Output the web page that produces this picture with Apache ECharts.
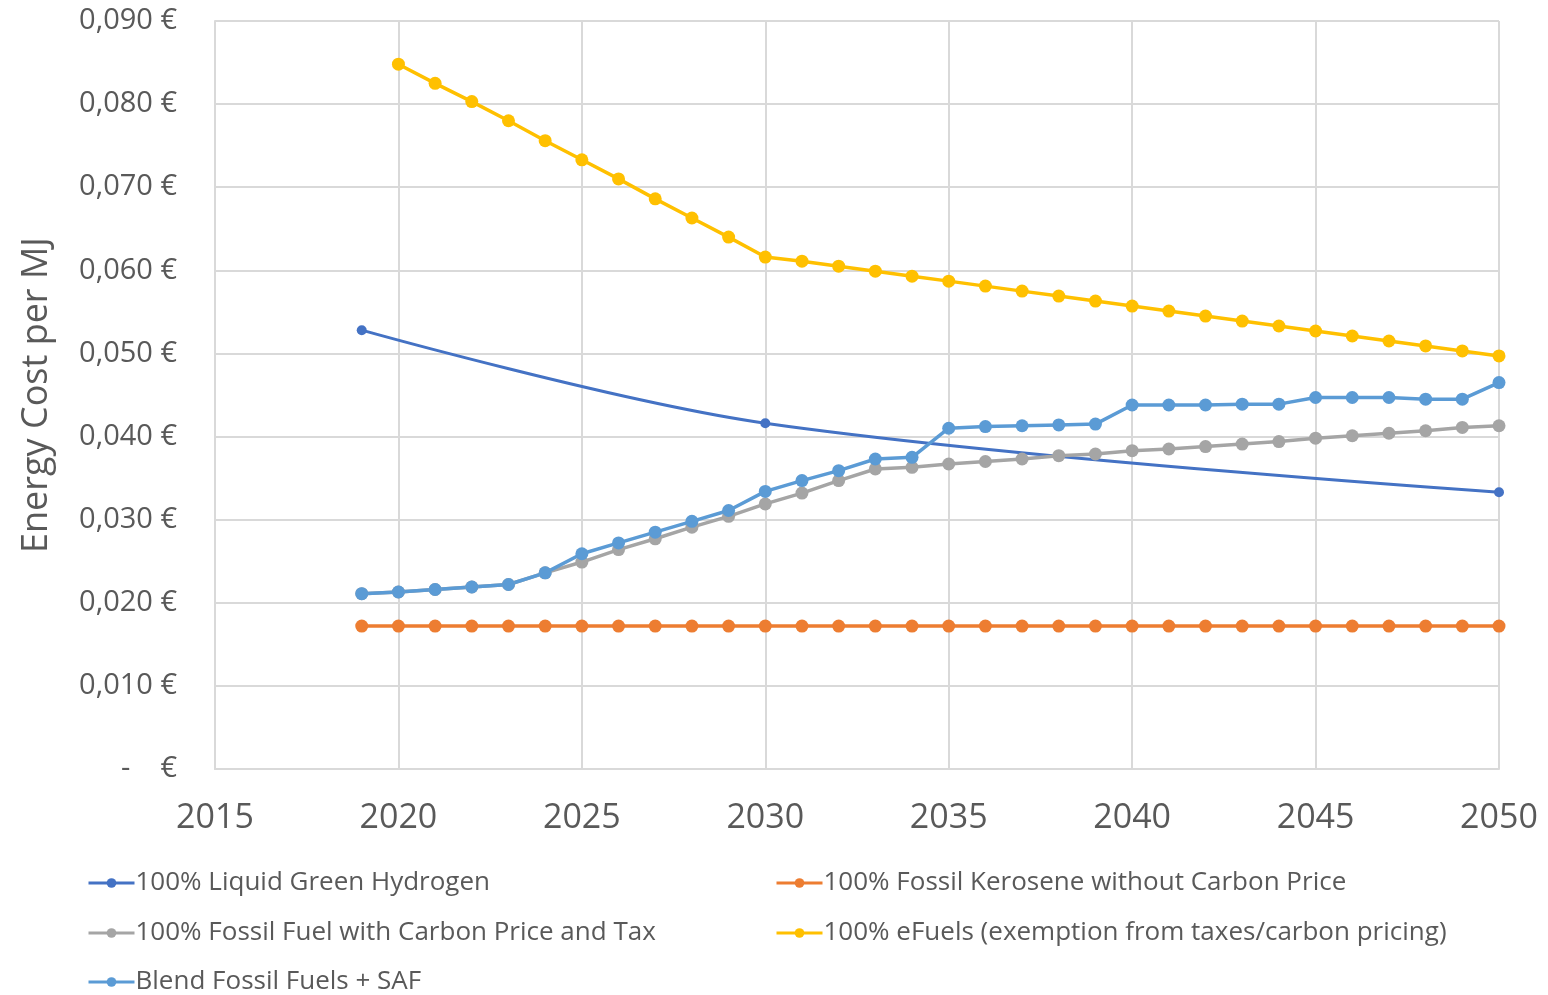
<!DOCTYPE html>
<html>
<head>
<meta charset="utf-8">
<script src="https://cdn.jsdelivr.net/npm/echarts@6/dist/echarts.min.js"></script>
<style>html,body{margin:0;padding:0;background:#fff}#c{width:1548px;height:995px}</style>
</head>
<body>
<div id="c"></div>
<script>
const seriesNames = [
  '100% Liquid Green Hydrogen',
  '100% Fossil Kerosene without Carbon Price',
  '100% Fossil Fuel with Carbon Price and Tax',
  '100% eFuels (exemption from taxes/carbon pricing)',
  'Blend Fossil Fuels + SAF'
];
const years = [2019,2020,2021,2022,2023,2024,2025,2026,2027,2028,2029,2030,2031,2032,2033,2034,2035,2036,2037,2038,2039,2040,2041,2042,2043,2044,2045,2046,2047,2048,2049,2050];
const hydrogenYears = [2019, 2030, 2050];
const hydrogen = [0.0528, 0.0416, 0.0333];
const kerosene = [0.0172,0.0172,0.0172,0.0172,0.0172,0.0172,0.0172,0.0172,0.0172,0.0172,0.0172,0.0172,0.0172,0.0172,0.0172,0.0172,0.0172,0.0172,0.0172,0.0172,0.0172,0.0172,0.0172,0.0172,0.0172,0.0172,0.0172,0.0172,0.0172,0.0172,0.0172,0.0172];
const fossilTax = [0.0211,0.0213,0.0216,0.0219,0.0222,0.0236,0.0249,0.0264,0.0277,0.0291,0.0304,0.0319,0.0332,0.0347,0.0361,0.0363,0.0367,0.0370,0.0373,0.0377,0.0379,0.0383,0.0385,0.0388,0.0391,0.0394,0.0398,0.0401,0.0404,0.0407,0.0411,0.0413];
const efuelYears = years.slice(1);
const efuels = [0.0848,0.0825,0.0803,0.0780,0.0756,0.0733,0.0710,0.0686,0.0663,0.0640,0.0616,0.0611,0.0605,0.0599,0.0593,0.0587,0.0581,0.0575,0.0569,0.0563,0.0557,0.0551,0.0545,0.0539,0.0533,0.0527,0.0521,0.0515,0.0509,0.0503,0.0497];
const blend = [0.0211,0.0213,0.0216,0.0219,0.0222,0.0236,0.0259,0.0272,0.0285,0.0298,0.0311,0.0334,0.0347,0.0359,0.0373,0.0375,0.0410,0.0412,0.0413,0.0414,0.0415,0.0438,0.0438,0.0438,0.0439,0.0439,0.0447,0.0447,0.0447,0.0445,0.0445,0.0465];
const colors = ['#4472C4','#ED7D31','#A5A5A5','#FFC000','#5B9BD5'];

const zip = (xs, ys) => xs.map((x, i) => [x, ys[i]]);
const txt = '#595959';
const font = 'Open Sans, Lato, sans-serif';

function mkSeries(i, data, opts) {
  return Object.assign({
    name: seriesNames[i], type: 'line', data: data,
    symbol: 'circle', symbolSize: 13,
    lineStyle: { color: colors[i], width: 3.5 },
    itemStyle: { color: colors[i] },
    emphasis: { disabled: true }, animation: false
  }, opts || {});
}

const legendPos = [
  { left: 82, top: 865 }, { left: 770, top: 865 },
  { left: 82, top: 915 }, { left: 770, top: 915 },
  { left: 82, top: 964 }
];

const chart = echarts.init(document.getElementById('c'));
chart.setOption({
  backgroundColor: '#fff',
  animation: false,
  color: colors,
  grid: { left: 215, right: 49, top: 21, bottom: 226, containLabel: false },
  xAxis: {
    type: 'value', min: 2015, max: 2050, interval: 5,
    axisLine: { show: true, lineStyle: { color: '#d9d9d9', width: 2 } },
    axisTick: { show: false },
    splitLine: { show: true, lineStyle: { color: '#d9d9d9', width: 2 } },
    axisLabel: { color: txt, fontSize: 34, fontFamily: font, margin: 32, formatter: v => String(v) }
  },
  yAxis: {
    type: 'value', min: 0, max: 0.09, interval: 0.01,
    name: 'Energy Cost per MJ', nameLocation: 'middle', nameGap: 160,
    nameTextStyle: { color: txt, fontSize: 36, fontFamily: font },
    axisLine: { show: true, lineStyle: { color: '#d9d9d9', width: 2 } },
    axisTick: { show: false },
    splitLine: { show: true, lineStyle: { color: '#d9d9d9', width: 2 } },
    axisLabel: {
      color: txt, fontSize: 29, fontFamily: font, margin: 38,
      formatter: v => v === 0 ? '-    €' : v.toFixed(3).replace('.', ',') + ' €'
    }
  },
  legend: legendPos.map((p, i) => ({
    data: [seriesNames[i]], left: p.left, top: p.top,
    itemWidth: 46, itemHeight: 12, itemGap: 0,
    lineStyle: { width: 3 },
    textStyle: { color: txt, fontSize: 26, fontFamily: font, padding: [0,0,0,-4] },
    selectedMode: false
  })),
  series: [
    mkSeries(0, zip(hydrogenYears, hydrogen), { smooth: 0.35, symbolSize: 10, lineStyle: { color: colors[0], width: 3 } }),
    mkSeries(1, zip(years, kerosene)),
    mkSeries(2, zip(years, fossilTax)),
    mkSeries(3, zip(efuelYears, efuels)),
    mkSeries(4, zip(years, blend))
  ]
});
</script>
</body>
</html>
